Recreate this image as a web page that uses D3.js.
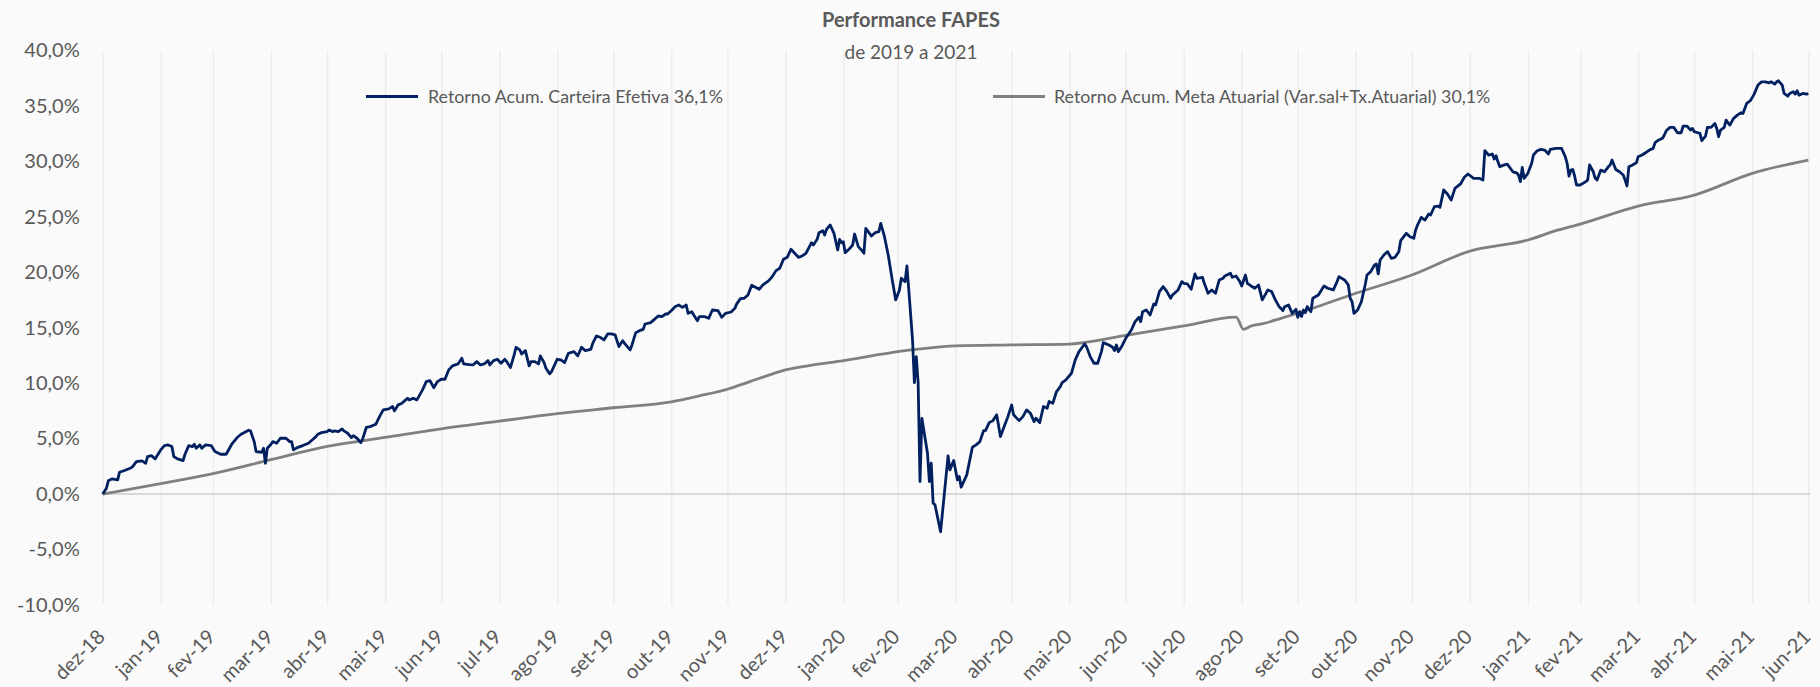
<!DOCTYPE html>
<html><head><meta charset="utf-8">
<script src="https://cdn.jsdelivr.net/npm/d3@7"></script>
<style>
html,body{margin:0;padding:0;background:#fafafa;}
svg{display:block;font-family:Lato,"Open Sans",sans-serif;}
</style>
</head><body>
<svg id="chart" width="1820" height="687"></svg>
<script>
const titulo = "Performance FAPES";
const subtitulo = "de 2019 a 2021";
const nomesSeries = ["Retorno Acum. Carteira Efetiva 36,1%", "Retorno Acum. Meta Atuarial (Var.sal+Tx.Atuarial) 30,1%"];
const ticksY = [-10, -5, 0, 5, 10, 15, 20, 25, 30, 35, 40];
const rotulosY = ["-10,0%", "-5,0%", "0,0%", "5,0%", "10,0%", "15,0%", "20,0%", "25,0%", "30,0%", "35,0%", "40,0%"];
const datasTicksX = ["2018-12-31","2019-01-31","2019-02-28","2019-03-31","2019-04-30","2019-05-31","2019-06-30","2019-07-31","2019-08-31","2019-09-30","2019-10-31","2019-11-30","2019-12-31","2020-01-31","2020-02-29","2020-03-31","2020-04-30","2020-05-31","2020-06-30","2020-07-31","2020-08-31","2020-09-30","2020-10-31","2020-11-30","2020-12-31","2021-01-31","2021-02-28","2021-03-31","2021-04-30","2021-05-31","2021-06-30"];
const rotulosX = ["dez-18","jan-19","fev-19","mar-19","abr-19","mai-19","jun-19","jul-19","ago-19","set-19","out-19","nov-19","dez-19","jan-20","fev-20","mar-20","abr-20","mai-20","jun-20","jul-20","ago-20","set-20","out-20","nov-20","dez-20","jan-21","fev-21","mar-21","abr-21","mai-21","jun-21"];

// Retorno acumulado da carteira efetiva (%)
const datasCarteira = ["2018-12-31","2019-01-02","2019-01-03","2019-01-05","2019-01-08","2019-01-09","2019-01-12","2019-01-15","2019-01-16","2019-01-18","2019-01-21","2019-01-23","2019-01-24","2019-01-26","2019-01-28","2019-01-31","2019-02-02","2019-02-04","2019-02-06","2019-02-07","2019-02-09","2019-02-12","2019-02-13","2019-02-15","2019-02-17","2019-02-18","2019-02-19","2019-02-21","2019-02-22","2019-02-24","2019-02-27","2019-03-01","2019-03-04","2019-03-07","2019-03-10","2019-03-13","2019-03-15","2019-03-19","2019-03-20","2019-03-22","2019-03-23","2019-03-26","2019-03-27","2019-03-28","2019-03-29","2019-03-31","2019-04-01","2019-04-03","2019-04-05","2019-04-08","2019-04-10","2019-04-11","2019-04-12","2019-04-14","2019-04-17","2019-04-20","2019-04-22","2019-04-24","2019-04-25","2019-04-27","2019-04-30","2019-05-01","2019-05-03","2019-05-04","2019-05-06","2019-05-08","2019-05-09","2019-05-11","2019-05-13","2019-05-14","2019-05-16","2019-05-18","2019-05-19","2019-05-21","2019-05-23","2019-05-26","2019-05-28","2019-05-30","2019-06-02","2019-06-04","2019-06-05","2019-06-07","2019-06-09","2019-06-11","2019-06-12","2019-06-13","2019-06-15","2019-06-17","2019-06-20","2019-06-22","2019-06-24","2019-06-26","2019-06-28","2019-06-30","2019-07-02","2019-07-04","2019-07-06","2019-07-09","2019-07-11","2019-07-12","2019-07-15","2019-07-17","2019-07-19","2019-07-21","2019-07-23","2019-07-25","2019-07-26","2019-07-28","2019-07-30","2019-08-01","2019-08-03","2019-08-04","2019-08-06","2019-08-08","2019-08-09","2019-08-11","2019-08-12","2019-08-14","2019-08-16","2019-08-17","2019-08-19","2019-08-21","2019-08-22","2019-08-24","2019-08-25","2019-08-27","2019-08-28","2019-08-31","2019-09-02","2019-09-04","2019-09-06","2019-09-09","2019-09-11","2019-09-13","2019-09-15","2019-09-18","2019-09-19","2019-09-21","2019-09-23","2019-09-25","2019-09-27","2019-09-29","2019-10-01","2019-10-03","2019-10-05","2019-10-06","2019-10-09","2019-10-10","2019-10-12","2019-10-14","2019-10-16","2019-10-17","2019-10-20","2019-10-22","2019-10-24","2019-10-26","2019-10-28","2019-10-29","2019-10-31","2019-11-02","2019-11-04","2019-11-06","2019-11-08","2019-11-09","2019-11-11","2019-11-12","2019-11-14","2019-11-15","2019-11-18","2019-11-20","2019-11-22","2019-11-25","2019-11-27","2019-11-29","2019-12-02","2019-12-04","2019-12-05","2019-12-07","2019-12-09","2019-12-11","2019-12-13","2019-12-15","2019-12-17","2019-12-19","2019-12-22","2019-12-24","2019-12-26","2019-12-28","2019-12-30","2020-01-01","2020-01-03","2020-01-05","2020-01-07","2020-01-09","2020-01-11","2020-01-14","2020-01-15","2020-01-17","2020-01-18","2020-01-20","2020-01-21","2020-01-22","2020-01-24","2020-01-26","2020-01-28","2020-01-29","2020-01-30","2020-01-31","2020-02-01","2020-02-03","2020-02-05","2020-02-06","2020-02-08","2020-02-10","2020-02-11","2020-02-12","2020-02-14","2020-02-15","2020-02-17","2020-02-19","2020-02-20","2020-02-22","2020-02-24","2020-02-26","2020-02-28","2020-03-01","2020-03-02","2020-03-04","2020-03-05","2020-03-06","2020-03-08","2020-03-09","2020-03-10","2020-03-11","2020-03-12","2020-03-13","2020-03-16","2020-03-17","2020-03-18","2020-03-19","2020-03-20","2020-03-23","2020-03-27","2020-03-28","2020-03-30","2020-04-01","2020-04-02","2020-04-03","2020-04-06","2020-04-09","2020-04-11","2020-04-13","2020-04-15","2020-04-16","2020-04-18","2020-04-20","2020-04-22","2020-04-24","2020-04-26","2020-04-28","2020-04-30","2020-05-01","2020-05-04","2020-05-06","2020-05-08","2020-05-10","2020-05-12","2020-05-13","2020-05-15","2020-05-17","2020-05-19","2020-05-20","2020-05-22","2020-05-24","2020-05-26","2020-05-27","2020-05-29","2020-06-01","2020-06-03","2020-06-05","2020-06-08","2020-06-09","2020-06-11","2020-06-13","2020-06-15","2020-06-17","2020-06-18","2020-06-21","2020-06-23","2020-06-24","2020-06-25","2020-06-26","2020-06-28","2020-06-30","2020-07-03","2020-07-05","2020-07-07","2020-07-08","2020-07-09","2020-07-11","2020-07-13","2020-07-15","2020-07-16","2020-07-18","2020-07-20","2020-07-22","2020-07-24","2020-07-25","2020-07-28","2020-07-30","2020-07-31","2020-08-02","2020-08-04","2020-08-06","2020-08-07","2020-08-10","2020-08-11","2020-08-13","2020-08-15","2020-08-17","2020-08-19","2020-08-21","2020-08-22","2020-08-25","2020-08-26","2020-08-28","2020-08-30","2020-08-31","2020-09-02","2020-09-03","2020-09-05","2020-09-07","2020-09-09","2020-09-11","2020-09-12","2020-09-14","2020-09-16","2020-09-18","2020-09-20","2020-09-21","2020-09-22","2020-09-23","2020-09-25","2020-09-27","2020-09-29","2020-09-30","2020-10-01","2020-10-02","2020-10-03","2020-10-04","2020-10-05","2020-10-07","2020-10-08","2020-10-11","2020-10-14","2020-10-16","2020-10-19","2020-10-21","2020-10-22","2020-10-25","2020-10-27","2020-10-28","2020-10-29","2020-10-30","2020-11-01","2020-11-03","2020-11-05","2020-11-06","2020-11-08","2020-11-10","2020-11-11","2020-11-12","2020-11-13","2020-11-15","2020-11-17","2020-11-19","2020-11-21","2020-11-23","2020-11-24","2020-11-27","2020-11-29","2020-12-01","2020-12-02","2020-12-03","2020-12-05","2020-12-07","2020-12-09","2020-12-10","2020-12-12","2020-12-14","2020-12-15","2020-12-17","2020-12-19","2020-12-21","2020-12-23","2020-12-26","2020-12-28","2020-12-30","2021-01-02","2021-01-05","2021-01-07","2021-01-08","2021-01-10","2021-01-12","2021-01-13","2021-01-14","2021-01-15","2021-01-16","2021-01-18","2021-01-20","2021-01-23","2021-01-25","2021-01-26","2021-01-27","2021-01-28","2021-01-29","2021-01-31","2021-02-02","2021-02-03","2021-02-05","2021-02-07","2021-02-09","2021-02-11","2021-02-12","2021-02-15","2021-02-18","2021-02-20","2021-02-21","2021-02-22","2021-02-23","2021-02-24","2021-02-25","2021-02-26","2021-02-28","2021-03-03","2021-03-04","2021-03-05","2021-03-07","2021-03-08","2021-03-09","2021-03-11","2021-03-13","2021-03-15","2021-03-16","2021-03-17","2021-03-19","2021-03-21","2021-03-23","2021-03-24","2021-03-25","2021-03-26","2021-03-28","2021-03-30","2021-03-31","2021-04-02","2021-04-04","2021-04-06","2021-04-08","2021-04-09","2021-04-11","2021-04-13","2021-04-14","2021-04-15","2021-04-17","2021-04-19","2021-04-21","2021-04-23","2021-04-24","2021-04-26","2021-04-28","2021-04-29","2021-04-30","2021-05-03","2021-05-04","2021-05-06","2021-05-07","2021-05-09","2021-05-11","2021-05-12","2021-05-13","2021-05-14","2021-05-16","2021-05-17","2021-05-18","2021-05-19","2021-05-21","2021-05-23","2021-05-25","2021-05-26","2021-05-28","2021-05-30","2021-06-01","2021-06-03","2021-06-05","2021-06-07","2021-06-09","2021-06-10","2021-06-12","2021-06-13","2021-06-14","2021-06-16","2021-06-17","2021-06-19","2021-06-20","2021-06-22","2021-06-23","2021-06-24","2021-06-25","2021-06-27","2021-06-29","2021-06-30"];
const valoresCarteira = [0.00,0.53,1.19,1.37,1.28,1.97,2.15,2.35,2.48,2.93,2.99,2.78,3.38,3.47,3.17,3.98,4.37,4.43,4.28,3.38,3.17,3.02,3.59,4.37,4.28,4.49,4.13,4.43,4.13,4.43,4.37,3.83,3.59,3.59,4.49,5.12,5.39,5.75,5.70,4.73,3.83,3.77,4.13,2.78,4.13,4.49,4.73,4.58,5.03,5.03,4.73,4.73,3.98,4.19,4.37,4.58,4.88,5.18,5.39,5.54,5.63,5.78,5.63,5.69,5.63,5.87,5.69,5.48,5.09,5.27,5.03,4.64,4.97,6.02,6.08,6.29,6.98,7.59,7.68,7.89,7.50,8.04,8.19,8.49,8.64,8.49,8.64,8.49,9.39,10.14,10.23,9.59,10.14,10.35,10.35,11.19,11.55,11.73,12.24,11.73,11.67,11.64,11.94,11.64,11.73,12.03,11.64,12.03,12.15,11.79,12.15,11.94,11.40,12.54,13.23,12.99,12.63,12.93,11.55,11.94,11.94,11.73,12.45,11.85,11.34,10.83,11.04,12.15,12.09,11.85,12.69,12.84,12.45,13.23,12.93,13.05,13.59,14.25,14.13,13.89,14.43,14.43,14.34,13.29,13.83,13.59,12.99,13.44,14.55,14.73,14.85,15.33,15.45,15.75,16.05,15.99,16.23,16.23,16.53,16.89,17.04,16.83,17.04,16.29,16.44,16.14,15.63,15.99,15.99,15.84,16.59,16.53,15.93,16.29,16.41,16.74,17.14,17.62,17.65,17.95,18.82,18.64,18.46,18.85,19.21,19.60,20.14,20.35,21.16,21.34,22.06,21.70,21.34,21.46,21.70,22.66,22.45,22.96,23.56,23.74,23.35,23.86,24.25,23.50,22.00,22.96,22.66,22.75,21.76,22.06,22.45,23.44,22.30,21.94,21.70,23.95,23.50,23.26,23.56,23.65,24.40,23.20,21.55,19.45,17.50,18.40,19.45,19.15,20.56,18.40,13.89,10.05,12.39,10.05,1.13,6.83,3.68,1.13,2.78,-0.82,-0.97,-3.40,3.44,2.18,3.02,1.28,1.58,0.62,1.73,4.22,4.43,4.73,5.72,5.72,6.44,6.62,7.14,5.18,6.08,6.98,8.04,7.14,6.62,6.98,7.59,7.29,6.53,6.83,6.44,7.89,7.74,8.34,8.19,9.24,9.69,10.05,10.29,10.89,12.09,12.84,13.53,13.29,12.39,11.79,11.79,12.84,13.65,13.44,13.23,12.93,13.44,12.84,13.35,14.04,14.79,15.54,15.93,15.54,16.44,16.59,16.14,17.14,17.05,18.25,18.70,18.25,17.65,17.95,18.40,19.15,19.00,18.94,18.46,19.84,19.45,19.54,19.00,18.10,18.40,18.10,19.30,19.45,19.66,19.90,19.54,19.66,19.15,18.76,19.75,19.00,18.76,18.55,18.85,17.50,17.80,18.40,18.25,17.50,16.89,16.74,16.53,16.89,17.05,16.29,16.65,15.93,16.44,16.00,16.59,16.35,16.89,16.44,17.65,17.95,18.76,18.55,18.40,19.15,19.60,19.30,18.85,17.65,17.35,16.29,16.59,17.35,18.85,19.75,20.05,20.65,20.74,19.84,21.10,21.55,21.85,21.25,21.34,21.85,22.84,23.50,23.20,23.05,23.80,24.25,24.94,24.70,25.24,25.15,25.90,25.96,25.84,27.41,27.05,26.50,27.56,27.95,28.55,28.85,28.46,28.46,28.31,30.95,30.56,30.65,30.20,30.50,29.95,29.50,29.65,29.74,29.05,28.96,28.76,28.16,29.44,28.46,28.91,29.80,30.56,30.95,31.07,31.01,30.65,31.07,31.16,31.16,30.41,29.80,28.67,29.20,29.26,28.67,27.86,27.86,28.16,28.31,29.66,29.05,28.46,28.31,29.20,29.05,29.50,29.66,30.11,29.26,29.05,28.76,28.31,27.77,29.50,29.66,29.86,30.41,30.56,30.77,31.01,31.16,31.67,31.92,32.07,32.36,32.75,33.05,33.05,32.57,32.57,33.17,33.17,32.81,32.96,32.66,32.51,31.85,32.27,33.05,33.05,33.41,32.96,32.21,32.81,33.05,33.71,33.47,33.26,33.86,34.16,34.37,34.31,35.21,35.46,36.05,36.86,37.16,37.16,37.07,37.16,36.95,37.16,37.25,36.86,36.11,35.87,36.11,36.26,36.05,36.35,35.96,36.11,36.05,36.10];

// Retorno acumulado da meta atuarial (%)
const datasMeta = ["2018-12-31","2019-01-31","2019-02-28","2019-03-31","2019-04-30","2019-05-31","2019-06-30","2019-07-31","2019-08-31","2019-09-30","2019-10-31","2019-11-15","2019-11-30","2019-12-12","2019-12-21","2019-12-31","2020-01-15","2020-01-31","2020-02-15","2020-02-29","2020-03-15","2020-03-31","2020-04-30","2020-05-31","2020-06-30","2020-07-31","2020-08-28","2020-09-01","2020-09-05","2020-09-12","2020-09-21","2020-09-30","2020-10-31","2020-11-30","2020-12-31","2021-01-31","2021-02-15","2021-02-28","2021-03-31","2021-04-30","2021-05-31","2021-06-30"];
const valoresMeta = [0.00,0.95,1.85,3.10,4.30,5.10,5.88,6.57,7.25,7.78,8.32,8.85,9.45,10.14,10.65,11.19,11.64,12.03,12.45,12.84,13.14,13.35,13.44,13.52,14.30,15.15,15.95,14.85,15.15,15.39,15.84,16.30,18.10,19.75,21.90,22.90,23.74,24.34,25.96,26.95,28.91,30.10];

const corCarteira = "#002060";
const corMeta = "#808080";
const corTexto = "#595959";

const parse = d3.utcParse("%Y-%m-%d");
const svg = d3.select("#chart");

const x = d3.scaleUtc()
  .domain([parse(datasTicksX[0]), parse(datasTicksX[datasTicksX.length - 1])])
  .range([102.7, 1808.4]);
const y = d3.scaleLinear().domain([-10, 40]).range([605, 50.3]);

// vertical gridlines + x labels
const gx = svg.append("g").attr("transform", `translate(0,${y(-10)})`)
  .call(d3.axisBottom(x)
    .tickValues(datasTicksX.map(parse))
    .tickFormat((d, i) => rotulosX[i])
    .tickSize(-(y(-10) - y(40))));
gx.select(".domain").remove();
gx.selectAll(".tick line").attr("stroke", "#ececec").attr("stroke-width", 1.4);
gx.selectAll(".tick text")
  .attr("x", 0).attr("y", 0).attr("dy", 0)
  .attr("transform", "translate(3,33) rotate(-45)")
  .attr("text-anchor", "end")
  .attr("fill", corTexto)
  .style("font-size", "20px")
  .style("font-family", "Lato");

// y labels
const gy = svg.append("g").attr("transform", `translate(${x.range()[0]},0)`)
  .call(d3.axisLeft(y).tickValues(ticksY).tickFormat((d, i) => rotulosY[i]).tickSize(0).tickPadding(23));
gy.select(".domain").remove();
gy.selectAll(".tick text").attr("fill", corTexto).style("font-size", "20px").style("font-family", "Lato");

// zero line
svg.append("line")
  .attr("x1", x.range()[0]).attr("x2", x.range()[1] + 2)
  .attr("y1", y(0)).attr("y2", y(0))
  .attr("stroke", "#d9d9d9").attr("stroke-width", 2);

const serieCarteira = datasCarteira.map((d, i) => ({ date: parse(d), v: valoresCarteira[i] }));
const serieMeta = datasMeta.map((d, i) => ({ date: parse(d), v: valoresMeta[i] }));
const linha = d3.line().x(d => x(d.date)).y(d => y(d.v));
const linhaSuave = d3.line().x(d => x(d.date)).y(d => y(d.v)).curve(d3.curveMonotoneX);

svg.append("path").datum(serieMeta)
  .attr("d", linhaSuave).attr("fill", "none")
  .attr("stroke", corMeta).attr("stroke-width", 2.8).attr("stroke-linejoin", "round");
svg.append("path").datum(serieCarteira)
  .attr("d", linha).attr("fill", "none")
  .attr("stroke", corCarteira).attr("stroke-width", 2.8).attr("stroke-linejoin", "round");

// title
svg.append("text").attr("x", 911).attr("y", 27).attr("text-anchor", "middle")
  .attr("fill", corTexto).style("font-size", "20px").style("font-weight", "bold").text(titulo);
svg.append("text").attr("x", 911).attr("y", 59).attr("text-anchor", "middle")
  .attr("fill", corTexto).style("font-size", "19px").text(subtitulo);

// legend
const legenda = [
  { nome: nomesSeries[0], cor: corCarteira, x0: 366, x1: 418, tx: 428 },
  { nome: nomesSeries[1], cor: corMeta, x0: 993, x1: 1045, tx: 1054 }
];
const gl = svg.append("g");
legenda.forEach(l => {
  gl.append("line").attr("x1", l.x0).attr("x2", l.x1).attr("y1", 96.5).attr("y2", 96.5)
    .attr("stroke", l.cor).attr("stroke-width", 2.8);
  gl.append("text").attr("x", l.tx).attr("y", 96.5).attr("dy", "0.35em")
    .attr("fill", corTexto).style("font-size", "17.8px").text(l.nome);
});
</script>
</body></html>
